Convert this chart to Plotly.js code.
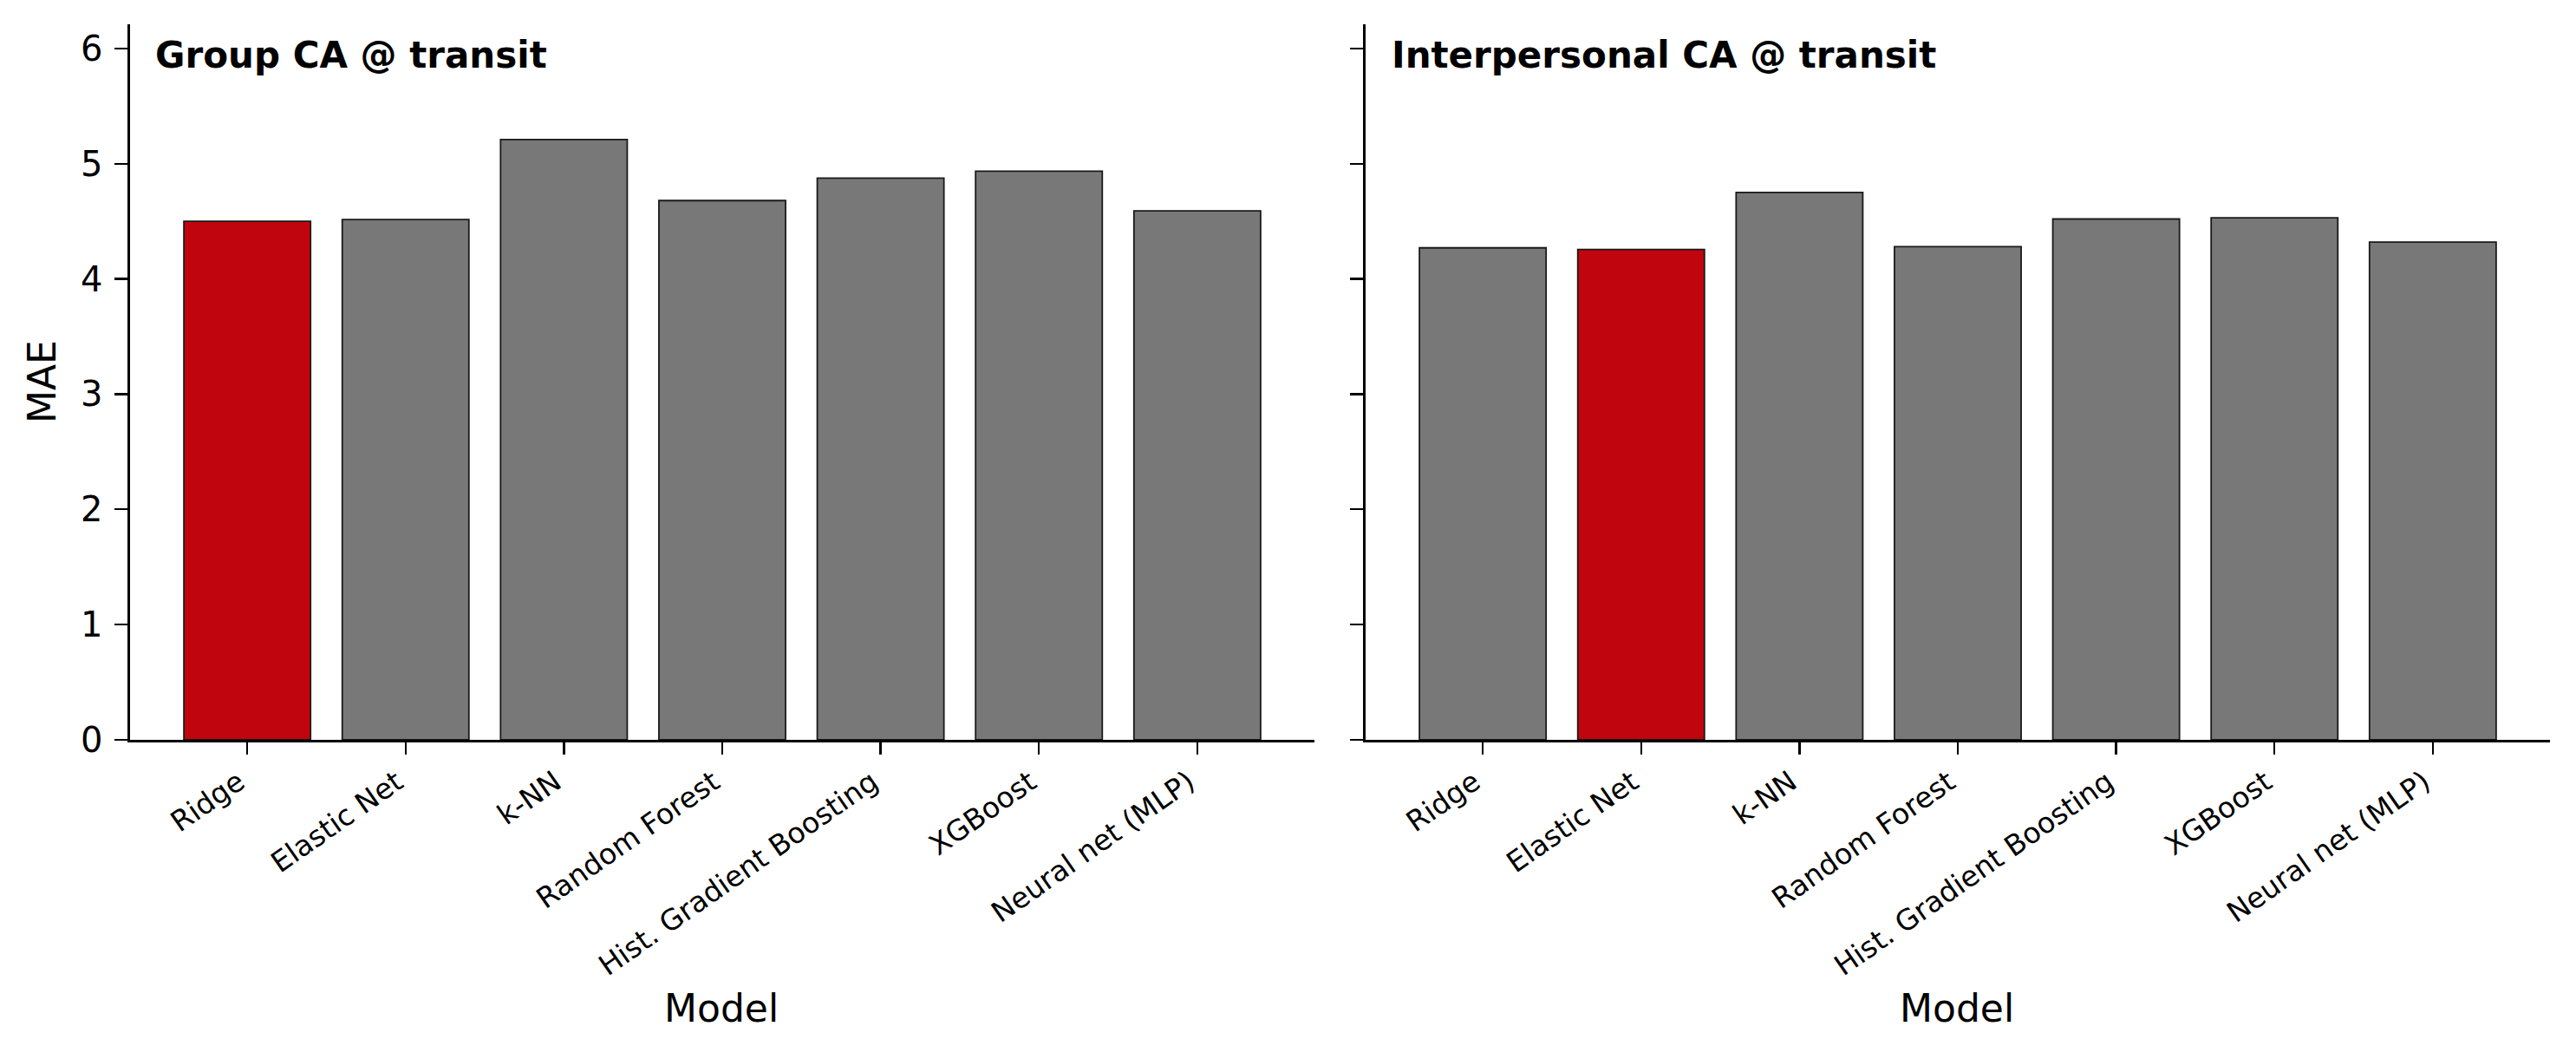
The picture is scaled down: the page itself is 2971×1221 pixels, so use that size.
<!DOCTYPE html>
<html>
<head>
<meta charset="utf-8">
<script src="https://cdn.plot.ly/plotly-3.0.1.min.js"></script>
<style>html,body{margin:0;padding:0;background:#fff;}#chart{width:2971px;height:1221px;}</style>
</head>
<body>
<div id="chart"></div>
<script>
const models = ["Ridge", "Elastic Net", "k-NN", "Random Forest", "Hist. Gradient Boosting", "XGBoost", "Neural net (MLP)"];
const groupMAE = [4.50, 4.515, 5.21, 4.68, 4.875, 4.935, 4.59];
const interpersonalMAE = [4.27, 4.255, 4.75, 4.28, 4.52, 4.53, 4.32];
const panelTitles = ["Group CA @ transit", "Interpersonal CA @ transit"];
const yTicks = [0, 1, 2, 3, 4, 5, 6];

const RED = "#c0050e", GRAY = "#787878";
function colorsFor(vals) {
  const mn = Math.min(...vals);
  return vals.map(v => v === mn ? RED : GRAY);
}
const W = 2971, H = 1221;
const FONT = "DejaVu Sans";
const xRange = [-0.74, 6.74];
const yRange = [0, 6.21];
const yDom = [1 - 853 / H, 1 - 28 / H];
const xDom1 = [150 / W, 1516 / W];
const xDom2 = [1575 / W, 2941 / W];

function bar(vals, xa, ya) {
  return {
    type: "bar", x: models, y: vals, xaxis: xa, yaxis: ya, width: 0.8,
    marker: {color: colorsFor(vals), line: {color: "#1a1a1a", width: 1.8}},
    showlegend: false, hoverinfo: "x+y"
  };
}
const xCommon = {
  type: "category", range: xRange, showgrid: false, zeroline: false,
  showline: true, linecolor: "#000", linewidth: 2.6,
  ticks: "outside", ticklen: 14, tickwidth: 2.4, tickcolor: "#000",
  tickangle: -35, tickfont: {family: FONT, size: 33, color: "#000"},
  ticklabelstandoff: 0, ticklabelshift: -10,
  fixedrange: true
};
const yCommon = {
  range: yRange, showgrid: false, zeroline: false,
  showline: true, linecolor: "#000", linewidth: 2.6,
  ticks: "outside", ticklen: 15, tickwidth: 2.4, tickcolor: "#000",
  tickvals: yTicks, tickfont: {family: FONT, size: 40, color: "#000"},
  ticklabelstandoff: 6,
  domain: yDom, fixedrange: true
};
const layout = {
  width: W, height: H, margin: {l: 0, r: 0, t: 0, b: 0},
  paper_bgcolor: "#fff", plot_bgcolor: "#fff",
  font: {family: FONT, color: "#000"},
  bargap: 0.2,
  xaxis: Object.assign({}, xCommon, {domain: xDom1, anchor: "y"}),
  yaxis: Object.assign({}, yCommon, {anchor: "x"}),
  xaxis2: Object.assign({}, xCommon, {domain: xDom2, anchor: "y2"}),
  yaxis2: Object.assign({}, yCommon, {anchor: "x2", showticklabels: false}),
  annotations: [
    {text: "<b>" + panelTitles[0] + "</b>", xref: "paper", yref: "paper",
     x: 177 / W, y: 1 - 80 / H, xanchor: "left", yanchor: "bottom", yshift: -10,
     showarrow: false, font: {family: FONT, size: 42, color: "#000"}},
    {text: "<b>" + panelTitles[1] + "</b>", xref: "paper", yref: "paper",
     x: 1603 / W, y: 1 - 80 / H, xanchor: "left", yanchor: "bottom", yshift: -10,
     showarrow: false, font: {family: FONT, size: 42, color: "#000"}},
    {text: "MAE", xref: "paper", yref: "paper", x: 48 / W, y: 1 - 440 / H,
     xanchor: "center", yanchor: "middle", textangle: -90, showarrow: false,
     font: {family: FONT, size: 44, color: "#000"}},
    {text: "Model", xref: "paper", yref: "paper", x: 832 / W, y: 1 - 1180 / H,
     xanchor: "center", yanchor: "bottom", yshift: -10, showarrow: false,
     font: {family: FONT, size: 44, color: "#000"}},
    {text: "Model", xref: "paper", yref: "paper", x: (1575 + 682) / W, y: 1 - 1180 / H,
     xanchor: "center", yanchor: "bottom", yshift: -10, showarrow: false,
     font: {family: FONT, size: 44, color: "#000"}}
  ]
};
Plotly.newPlot("chart", [bar(groupMAE, "x", "y"), bar(interpersonalMAE, "x2", "y2")], layout,
  {displayModeBar: false, staticPlot: true});
</script>
</body>
</html>
